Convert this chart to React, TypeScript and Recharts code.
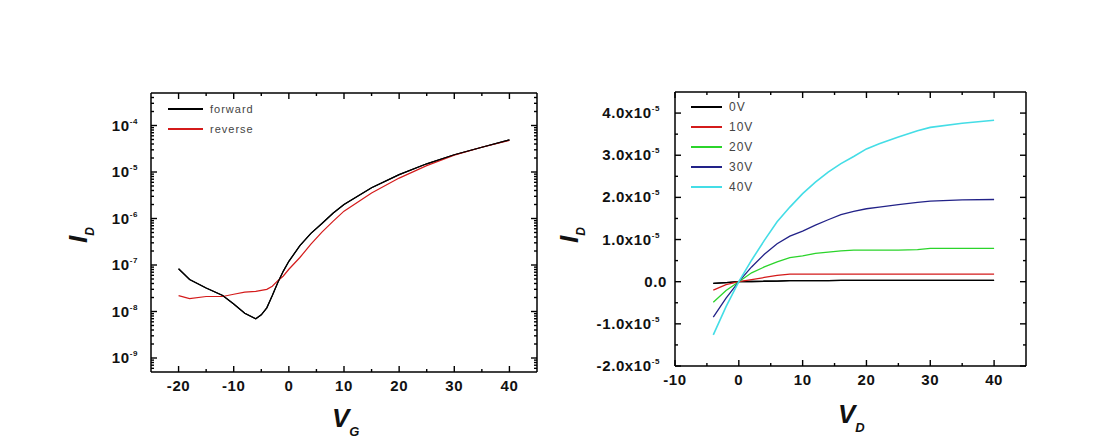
import React from "react";
import { LineChart, Line, XAxis, YAxis, Legend } from "recharts";

const FONT = "'Liberation Sans', Arial, sans-serif";

// left panel: transfer curve, I_D vs V_G
const vg = [-20, -18, -15, -12, -10, -8, -6, -5, -4, -3, -2, -1, 0, 2, 4, 6, 8, 10, 15, 20, 25, 30, 35, 40];
const forward = [
  8.3e-8, 4.9e-8, 3.2e-8, 2.2e-8, 1.45e-8, 9.2e-9, 7e-9, 8.5e-9, 1.2e-8, 2.2e-8, 4.2e-8, 7.4e-8, 1.2e-7,
  2.6e-7, 4.8e-7, 7.8e-7, 1.3e-6, 2.0e-6, 4.6e-6, 8.8e-6, 1.5e-5, 2.35e-5, 3.4e-5, 4.9e-5,
];
const reverse = [
  2.2e-8, 1.9e-8, 2.1e-8, 2.1e-8, 2.35e-8, 2.6e-8, 2.7e-8, 2.85e-8, 3.0e-8, 3.5e-8, 4.6e-8, 5.8e-8, 8.1e-8,
  1.45e-7, 2.8e-7, 5.1e-7, 8.7e-7, 1.44e-6, 3.55e-6, 7.4e-6, 1.37e-5, 2.3e-5, 3.4e-5, 4.8e-5,
];

// right panel: output curves, I_D vs V_D for each gate voltage
const vd = [-4, -2, 0, 2, 4, 6, 8, 10, 12, 14, 16, 18, 20, 22, 25, 28, 30, 35, 40];
const id0V = [-0.04e-5, -0.02e-5, 0, 0.005e-5, 0.01e-5, 0.015e-5, 0.025e-5, 0.025e-5, 0.025e-5, 0.025e-5, 0.03e-5, 0.03e-5, 0.03e-5, 0.03e-5, 0.03e-5, 0.03e-5, 0.03e-5, 0.03e-5, 0.03e-5];
const id10V = [-0.2e-5, -0.07e-5, 0, 0.05e-5, 0.1e-5, 0.15e-5, 0.18e-5, 0.18e-5, 0.18e-5, 0.18e-5, 0.18e-5, 0.18e-5, 0.18e-5, 0.18e-5, 0.18e-5, 0.18e-5, 0.18e-5, 0.18e-5, 0.18e-5];
const id20V = [-0.49e-5, -0.21e-5, 0, 0.21e-5, 0.35e-5, 0.47e-5, 0.57e-5, 0.61e-5, 0.67e-5, 0.7e-5, 0.73e-5, 0.75e-5, 0.75e-5, 0.75e-5, 0.75e-5, 0.76e-5, 0.79e-5, 0.79e-5, 0.79e-5];
const id30V = [-0.84e-5, -0.39e-5, 0, 0.35e-5, 0.65e-5, 0.9e-5, 1.08e-5, 1.2e-5, 1.34e-5, 1.47e-5, 1.59e-5, 1.67e-5, 1.73e-5, 1.77e-5, 1.83e-5, 1.88e-5, 1.91e-5, 1.94e-5, 1.95e-5];
const id40V = [-1.26e-5, -0.59e-5, 0, 0.51e-5, 0.98e-5, 1.42e-5, 1.77e-5, 2.09e-5, 2.36e-5, 2.6e-5, 2.8e-5, 2.97e-5, 3.15e-5, 3.27e-5, 3.43e-5, 3.58e-5, 3.66e-5, 3.76e-5, 3.83e-5];

const gateLabels = ["0V", "10V", "20V", "30V", "40V"];
const gateColors = ["#000000", "#d41b1b", "#2bd42b", "#222288", "#44dde6"];

// ticks
const transferMajorX = [-20, -10, 0, 10, 20, 30, 40];
const transferMinorX = [-15, -5, 5, 15, 25, 35];
const transferMajorY = [1e-9, 1e-8, 1e-7, 1e-6, 1e-5, 1e-4];
const transferMinorY = [1e-10, 1e-9, 1e-8, 1e-7, 1e-6, 1e-5, 1e-4].flatMap((d) =>
  [2, 3, 4, 5, 6, 7, 8, 9].map((m) => m * d)
).filter((v) => v > 5e-10 && v < 5e-4);
const outputMajorX = [-10, 0, 10, 20, 30, 40];
const outputMinorX = [-5, 5, 15, 25, 35];
const outputMajorY = [-2e-5, -1e-5, 0, 1e-5, 2e-5, 3e-5, 4e-5];
const outputMinorY = [-1.5e-5, -0.5e-5, 0.5e-5, 1.5e-5, 2.5e-5, 3.5e-5];

const transferData = vg.map((v, i) => ({ vg: v, forward: forward[i], reverse: reverse[i] }));
const outputData = vd.map((v, i) => ({
  vd: v,
  id0V: id0V[i],
  id10V: id10V[i],
  id20V: id20V[i],
  id30V: id30V[i],
  id40V: id40V[i],
}));
const outputKeys = ["id0V", "id10V", "id20V", "id30V", "id40V"];

const isMajor = (list: number[], v: number) => list.some((m) => Math.abs(m - v) < Math.abs(v) * 1e-6 + 1e-12);

const labelStyle = {
  fontFamily: FONT,
  fontWeight: "bold" as const,
  fontSize: 15,
  letterSpacing: 0.6,
  fill: "#111",
};

const bottomTick = (majors: number[]) => (p: any) => {
  const { x, y, payload } = p;
  const major = isMajor(majors, payload.value);
  return (
    <g>
      <line x1={x} x2={x} y1={y} y2={y - (major ? 6 : 3)} stroke="#000" strokeWidth={1.4} />
      {major && (
        <text x={x} y={y + 19} textAnchor="middle" {...labelStyle}>
          {payload.value}
        </text>
      )}
    </g>
  );
};

const topTick = (majors: number[]) => (p: any) => {
  const { x, y, payload } = p;
  const major = isMajor(majors, payload.value);
  return <line x1={x} x2={x} y1={y} y2={y + (major ? 6 : 3)} stroke="#000" strokeWidth={1.4} />;
};

const rightTick = (majors: number[]) => (p: any) => {
  const { x, y, payload } = p;
  const major = isMajor(majors, payload.value);
  return <line x1={x} x2={x - (major ? 6 : 3)} y1={y} y2={y} stroke="#000" strokeWidth={1.4} />;
};

const logLeftTick = (p: any) => {
  const { x, y, payload } = p;
  const major = isMajor(transferMajorY, payload.value);
  const exp = Math.round(Math.log10(payload.value));
  return (
    <g>
      <line x1={x} x2={x + (major ? 6 : 3)} y1={y} y2={y} stroke="#000" strokeWidth={1.4} />
      {major && (
        <text x={x - 13} y={y + 5} textAnchor="end" {...labelStyle}>
          10
          <tspan dy={-7} fontSize={8}>
            {exp}
          </tspan>
        </text>
      )}
    </g>
  );
};

const linearLeftTick = (p: any) => {
  const { x, y, payload } = p;
  const major = isMajor(outputMajorY, payload.value);
  const v = payload.value;
  return (
    <g>
      <line x1={x} x2={x + (major ? 6 : 3)} y1={y} y2={y} stroke="#000" strokeWidth={1.4} />
      {major &&
        (v === 0 ? (
          <text x={x - 8} y={y + 5} textAnchor="end" {...labelStyle}>
            0.0
          </text>
        ) : (
          <text x={x - 15} y={y + 5} textAnchor="end" {...labelStyle}>
            {(v / 1e-5).toFixed(1)}x10
            <tspan dy={-7} fontSize={8}>
              -5
            </tspan>
          </text>
        ))}
    </g>
  );
};

const legendContent = (lineLen: number, rowH: number, fontSize: number, names: string[], colors: string[]) => () => (
  <div style={{ fontFamily: "Arial, 'Liberation Sans', sans-serif", fontSize, color: "#444", letterSpacing: 1 }}>
    {names.map((n, i) => (
      <div key={n} style={{ display: "flex", alignItems: "center", height: rowH }}>
        <span style={{ display: "inline-block", width: lineLen, height: 2, background: colors[i] }} />
        <span style={{ marginLeft: 7 }}>{n}</span>
      </div>
    ))}
  </div>
);

const titleStyle = {
  fontFamily: FONT,
  fontWeight: "bold" as const,
  fontStyle: "italic" as const,
  fill: "#111",
};

export default function App() {
  return (
    <div style={{ position: "absolute", left: 0, top: 0, width: 1096, height: 445, background: "#fff" }}>
      <div style={{ position: "absolute", left: 0, top: 0 }}>
        <LineChart width={560} height={445} data={transferData} margin={{ top: 92, right: 22, bottom: 43, left: 81 }}>
          <XAxis
            dataKey="vg"
            type="number"
            domain={[-25, 45]}
            allowDataOverflow
            ticks={[...transferMajorX, ...transferMinorX]}
            interval={0}
            tickSize={0}
            tickMargin={0}
            height={30}
            tick={bottomTick(transferMajorX)}
            tickLine={false}
            axisLine={{ stroke: "#000", strokeWidth: 1.5 }}
          />
          <XAxis
            xAxisId="top"
            dataKey="vg"
            orientation="top"
            type="number"
            domain={[-25, 45]}
            allowDataOverflow
            ticks={[...transferMajorX, ...transferMinorX]}
            interval={0}
            tickSize={0}
            tickMargin={0}
            height={1}
            tick={topTick(transferMajorX)}
            tickLine={false}
            axisLine={{ stroke: "#000", strokeWidth: 1.5 }}
          />
          <YAxis
            type="number"
            scale="log"
            domain={[5e-10, 5e-4]}
            allowDataOverflow
            ticks={[...transferMajorY, ...transferMinorY]}
            interval={0}
            tickSize={0}
            tickMargin={0}
            width={70}
            tick={logLeftTick}
            tickLine={false}
            axisLine={{ stroke: "#000", strokeWidth: 1.5 }}
          />
          <YAxis
            yAxisId="right"
            orientation="right"
            type="number"
            scale="log"
            domain={[5e-10, 5e-4]}
            allowDataOverflow
            ticks={[...transferMajorY, ...transferMinorY]}
            interval={0}
            tickSize={0}
            tickMargin={0}
            width={1}
            tick={rightTick(transferMajorY)}
            tickLine={false}
            axisLine={{ stroke: "#000", strokeWidth: 1.5 }}
          />
          <Legend
            layout="horizontal"
            verticalAlign="middle"
            align="center"
            wrapperStyle={{ left: 168, top: 99, width: "auto", height: "auto" }}
            content={legendContent(35, 20, 11, ["forward", "reverse"], ["#000000", "#d41b1b"])}
          />
          <Line dataKey="forward" stroke="#000000" strokeWidth={1.2} dot={false} isAnimationActive={false} />
          <Line dataKey="reverse" stroke="#d41b1b" strokeWidth={1.2} dot={false} isAnimationActive={false} />
          {/* same series bound to the top/right axes so that the frame axes are laid out */}
          <Line xAxisId="top" yAxisId="right" dataKey="forward" stroke="#000000" strokeWidth={1.2} dot={false} isAnimationActive={false} />
        </LineChart>
      </div>

      <div style={{ position: "absolute", left: 560, top: 0 }}>
        <LineChart width={536} height={445} data={outputData} margin={{ top: 91, right: 69, bottom: 49, left: 25 }}>
          <XAxis
            dataKey="vd"
            type="number"
            domain={[-10, 45]}
            allowDataOverflow
            ticks={[...outputMajorX, ...outputMinorX]}
            interval={0}
            tickSize={0}
            tickMargin={0}
            height={30}
            tick={bottomTick(outputMajorX)}
            tickLine={false}
            axisLine={{ stroke: "#000", strokeWidth: 1.5 }}
          />
          <XAxis
            xAxisId="top"
            dataKey="vd"
            orientation="top"
            type="number"
            domain={[-10, 45]}
            allowDataOverflow
            ticks={[...outputMajorX, ...outputMinorX]}
            interval={0}
            tickSize={0}
            tickMargin={0}
            height={1}
            tick={topTick(outputMajorX)}
            tickLine={false}
            axisLine={{ stroke: "#000", strokeWidth: 1.5 }}
          />
          <YAxis
            type="number"
            domain={[-2e-5, 4.5e-5]}
            allowDataOverflow
            ticks={[...outputMajorY, ...outputMinorY]}
            interval={0}
            tickSize={0}
            tickMargin={0}
            width={90}
            tick={linearLeftTick}
            tickLine={false}
            axisLine={{ stroke: "#000", strokeWidth: 1.5 }}
          />
          <YAxis
            yAxisId="right"
            orientation="right"
            type="number"
            domain={[-2e-5, 4.5e-5]}
            allowDataOverflow
            ticks={[...outputMajorY, ...outputMinorY]}
            interval={0}
            tickSize={0}
            tickMargin={0}
            width={1}
            tick={rightTick(outputMajorY)}
            tickLine={false}
            axisLine={{ stroke: "#000", strokeWidth: 1.5 }}
          />
          <Legend
            layout="horizontal"
            verticalAlign="middle"
            align="center"
            wrapperStyle={{ left: 131, top: 97, width: "auto", height: "auto" }}
            content={legendContent(31, 20, 12, gateLabels, gateColors)}
          />
          <Line xAxisId="top" yAxisId="right" dataKey="id0V" stroke="#000000" strokeWidth={1.3} dot={false} isAnimationActive={false} />
          {outputKeys.map((k, i) => (
            <Line
              key={k}
              dataKey={k}
              stroke={gateColors[i]}
              strokeWidth={i === 4 ? 1.6 : 1.3}
              dot={false}
              isAnimationActive={false}
            />
          ))}
        </LineChart>
      </div>

      <svg width={1096} height={445} style={{ position: "absolute", left: 0, top: 0, pointerEvents: "none" }}>
        <text transform="translate(87,243) rotate(-90)" fontSize={26} {...titleStyle}>
          I
          <tspan fontSize={12} dy={7}>
            D
          </tspan>
        </text>
        <text x={332} y={427} fontSize={26} {...titleStyle}>
          V
          <tspan fontSize={13} dy={9}>
            G
          </tspan>
        </text>
        <text transform="translate(578,243) rotate(-90)" fontSize={26} {...titleStyle}>
          I
          <tspan fontSize={12} dy={7}>
            D
          </tspan>
        </text>
        <text x={838} y={423} fontSize={26} {...titleStyle}>
          V
          <tspan fontSize={13} dy={9}>
            D
          </tspan>
        </text>
      </svg>
    </div>
  );
}
